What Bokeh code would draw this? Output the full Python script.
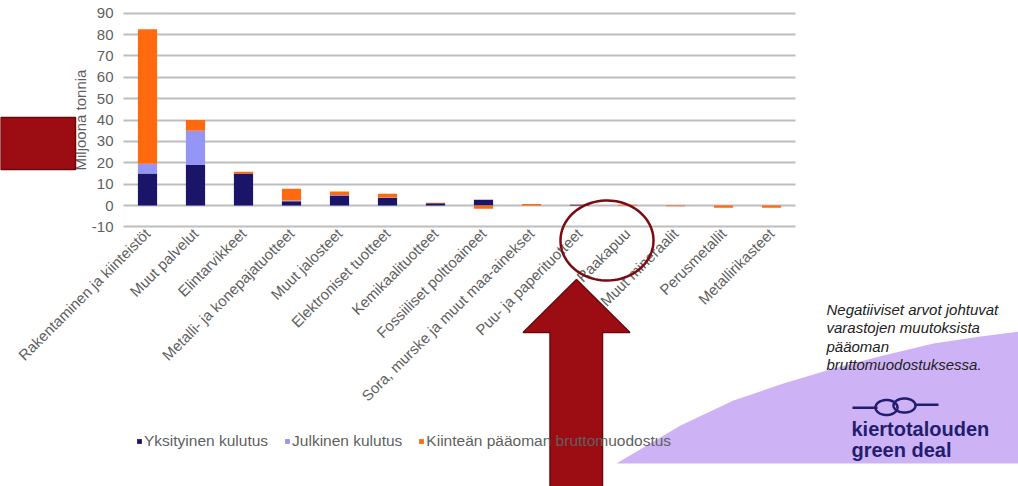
import numpy as np
from bokeh.plotting import figure
from bokeh.models import (ColumnDataSource, Range1d, FixedTicker, Legend, LegendItem,
                          PolyAnnotation, Label, LinearAxis, Grid)
from bokeh.embed import file_html
from bokeh.resources import INLINE

# ---------------- data ----------------
categories = [
    "Rakentaminen ja kiinteistöt", "Muut palvelut", "Elintarvikkeet",
    "Metalli- ja konepajatuotteet", "Muut jalosteet", "Elektroniset tuotteet",
    "Kemikaalituotteet", "Fossiiliset polttoaineet", "Sora, murske ja muut maa-ainekset",
    "Puu- ja paperituotteet", "Raakapuu", "Muut mineraalit", "Perusmetallit",
    "Metallirikasteet",
]
yksityinen = [15.0, 19.0, 15.0, 2.0, 4.7, 3.6, 1.0, 2.7, 0.0, 0.4, 0.0, 0.0, 0.0, 0.0]
julkinen = [4.5, 16.0, 0.0, 0.3, 0.2, 0.2, 0.0, 0.0, 0.0, 0.0, 0.0, 0.0, 0.0, 0.0]
kiintea = [63.0, 5.0, 0.8, 5.5, 1.6, 1.7, 0.3, -1.5, 0.7, 0.1, 0.3, -0.4, -1.0, -1.0]
series_names = ["Yksityinen kulutus", "Julkinen kulutus", "Kiinteän pääoman bruttomuodostus"]
series_colors = ["#1a1569", "#9595f5", "#ff6a10"]
y_ticks = list(range(-10, 91, 10))
y_tick_labels = [str(v) for v in y_ticks]
y_label = "Miljoona tonnia"
note_lines = ["Negatiiviset arvot johtuvat", "varastojen muutoksista", "pääoman",
              "bruttomuodostuksessa."]
logo_lines = ["kiertotalouden", "green deal"]

# ---------------- layout constants (pixels) ----------------
W, H = 1018, 486
CH_LEFT = 123        # left edge of the chart area
CH_STEP = 48         # width of one category
ZERO_Y = 205         # pixel row of value 0
PX_PER_UNIT = 2.137  # pixels per million tonnes
FONT = "Liberation Sans"
GREY = "#5f5f5f"

n = len(categories)
idx = list(range(n))
x_start = (0 - CH_LEFT) / CH_STEP - 0.5
x_end = (W - CH_LEFT) / CH_STEP - 0.5
y_start = (ZERO_Y - H) / PX_PER_UNIT
y_end = ZERO_Y / PX_PER_UNIT

p = figure(x_range=Range1d(x_start, x_end), y_range=Range1d(y_start, y_end),
           width=W, height=H, output_backend="svg", toolbar_location=None,
           x_axis_location=None, y_axis_location=None,
           min_border=0, min_border_left=0, min_border_right=0,
           min_border_top=0, min_border_bottom=0,
           background_fill_color="white", border_fill_color="white")
p.outline_line_color = None
p.center = [r for r in p.center if not isinstance(r, Grid)]

# horizontal grid lines limited to the chart area
if "cross_bounds" in Grid.properties():
    g = Grid(dimension=1, ticker=FixedTicker(ticks=y_ticks), bounds=(-10, 90),
             cross_bounds=(-0.5, n - 0.5), grid_line_color="#bdbdbd", grid_line_width=2)
    p.add_layout(g, "center")
else:
    p.segment(x0=-0.5, x1=n - 0.5, y0=y_ticks, y1=y_ticks, line_color="#bdbdbd",
              line_width=2, level="underlay")

# stacked bars (positives stack up, negatives stack down)
pos_base = np.zeros(n)
neg_base = np.zeros(n)
renderers = []
for vals, color in zip([yksityinen, julkinen, kiintea], series_colors):
    v = np.array(vals, dtype=float)
    bottom = np.where(v >= 0, pos_base, neg_base)
    top = bottom + v
    pos_base = np.where(v >= 0, top, pos_base)
    neg_base = np.where(v < 0, top, neg_base)
    src = ColumnDataSource(dict(x=idx, bottom=bottom, top=top))
    r = p.vbar(x="x", bottom="bottom", top="top", width=0.4, source=src,
               fill_color=color, line_color=None)
    renderers.append(r)

# axes fixed at the chart's edges
yaxis = LinearAxis(fixed_location=-0.5, ticker=FixedTicker(ticks=y_ticks), bounds=(-10, 90),
                   major_label_overrides={v: s for v, s in zip(y_ticks, y_tick_labels)},
                   axis_line_color=None, major_tick_line_color=None,
                   minor_tick_line_color=None, major_tick_out=0, major_tick_in=0,
                   major_label_standoff=10, major_label_text_font=FONT,
                   major_label_text_font_size="15px", major_label_text_color=GREY,
                   axis_label=y_label, axis_label_text_font=FONT,
                   axis_label_text_font_size="15px", axis_label_text_font_style="normal",
                   axis_label_text_color=GREY, axis_label_standoff=0)
p.add_layout(yaxis, "left")

xaxis = LinearAxis(fixed_location=-10, ticker=FixedTicker(ticks=idx), bounds=(-0.5, n - 0.5),
                   major_label_overrides={i: c for i, c in zip(idx, categories)},
                   axis_line_color=None, major_tick_line_color=None,
                   minor_tick_line_color=None, major_tick_out=0, major_tick_in=0,
                   major_label_orientation=np.pi / 4, major_label_standoff=4,
                   major_label_text_font=FONT, major_label_text_font_size="15px",
                   major_label_text_color=GREY)
p.add_layout(xaxis, "below")


# --------- decorations (page pixels -> screen units, y measured upward) ---------
def poly(X, Y, **kw):
    kw.setdefault("line_alpha", 1.0)
    a = PolyAnnotation(xs=list(X), ys=[H - y for y in Y], xs_units="screen",
                       ys_units="screen", **kw)
    p.add_layout(a)
    return a


def label(X, Y, text, **kw):
    a = Label(x=X, y=H - Y, x_units="screen", y_units="screen", text=text, **kw)
    p.add_layout(a)
    return a


# lavender backdrop
lav_X = [616, 680, 733, 783, 833, 883, 933, 980, 1020, 1020]
lav_Y = [463, 425, 400, 383, 368, 355, 343, 336, 331, 463]
poly(lav_X, lav_Y, fill_color="#cdb3f6", fill_alpha=1.0, line_color=None, level="underlay")

# legend
legend = Legend(items=[LegendItem(label=nm, renderers=[r]) for nm, r in zip(series_names, renderers)],
                orientation="horizontal", location=(136, H - 442 - 7.5),
                glyph_width=6, glyph_height=6, label_standoff=2, spacing=16,
                padding=0, margin=0, label_height=15,
                label_text_font=FONT, label_text_font_size="15.5px", label_text_color=GREY,
                background_fill_alpha=0, border_line_color=None, level="guide")
p.add_layout(legend)

# red box at left
poly([0, 75, 75, 0], [117, 117, 169, 169], fill_color="#9c0d13", fill_alpha=1.0,
     line_color="#6a080c", line_width=1.5, level="overlay")

# ellipse around "Raakapuu"
t = np.linspace(0, 2 * np.pi, 90)
poly(606.5 + 46.5 * np.cos(t), 240 + 40 * np.sin(t), fill_alpha=0,
     line_color="#7a0b10", line_width=2.5, level="overlay")

# arrow
arr_X = [576, 629.5, 602, 602, 549.5, 549.5, 522.5]
arr_Y = [279, 332, 332, 495, 495, 332, 332]
poly(arr_X, arr_Y, fill_color="#9c0d13", fill_alpha=1.0, line_color="#6a080c",
     line_width=1.5, level="overlay")

# note
for i, line in enumerate(note_lines):
    label(826, 300 + 18.5 * i, line, text_font=FONT, text_font_size="15px",
          text_font_style="italic", text_color="#222222", text_baseline="top")

# logo
NAVY = "#231d6e"
poly([852, 877, 877, 852], [406, 406, 408.5, 408.5], fill_color=NAVY, fill_alpha=1, line_color=None)
poly([914, 938, 938, 914], [403, 403, 405.5, 405.5], fill_color=NAVY, fill_alpha=1, line_color=None)
for cx, cy, rx, ry in [(886, 407, 11, 7.5), (904, 405, 11, 7)]:
    poly(cx + rx * np.cos(t), cy + ry * np.sin(t), fill_alpha=0, line_color=NAVY, line_width=2.5)
for i, line in enumerate(logo_lines):
    label(851, 417 + 21 * i, line, text_font=FONT, text_font_size="20px",
          text_font_style="bold", text_color=NAVY, text_baseline="top")

open("out.html", "w").write(file_html(p, INLINE))
